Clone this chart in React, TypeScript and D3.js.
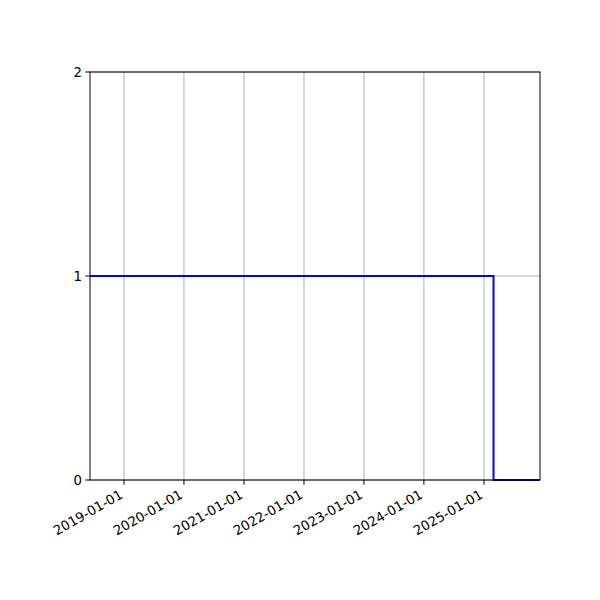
import React from "react";
import * as d3 from "d3";

// step series: value holds until the next date
const dates = ["2018-06-08", "2025-02-28", "2025-12-08"];
const values = [1, 0, 0];
const yTicks = [0, 1, 2];
const xTicks = ["2019-01-01", "2020-01-01", "2021-01-01", "2022-01-01", "2023-01-01", "2024-01-01", "2025-01-01"];

const W = 600;
const H = 600;
const margin = { top: 72, right: 60, bottom: 120, left: 90 };

const App: React.FC = () => {
  const parse = d3.utcParse("%Y-%m-%d");
  const pts = dates.map((d, i) => ({ date: parse(d)!, value: values[i] }));

  const x = d3
    .scaleUtc()
    .domain(d3.extent(pts, (d) => d.date) as [Date, Date])
    .range([margin.left, W - margin.right]);
  const y = d3
    .scaleLinear()
    .domain([0, 2])
    .range([H - margin.bottom, margin.top]);

  const line = d3
    .line<{ date: Date; value: number }>()
    .x((d) => x(d.date))
    .y((d) => y(d.value))
    .curve(d3.curveStepAfter);

  const font = "DejaVu Sans, sans-serif";
  const [x0, x1] = x.range();
  const [y0, y1] = y.range();

  return (
    <svg width={W} height={H} style={{ display: "block", margin: -8 }}>
      <rect width={W} height={H} fill="white" />
      {/* grid */}
      {xTicks.map((t) => (
        <line key={t} x1={x(parse(t)!)} x2={x(parse(t)!)} y1={y0} y2={y1} stroke="#b0b0b0" strokeWidth={1} />
      ))}
      {yTicks.map((t) => (
        <line key={t} x1={x0} x2={x1} y1={y(t)} y2={y(t)} stroke="#b0b0b0" strokeWidth={1} />
      ))}
      <path d={line(pts) || ""} fill="none" stroke="blue" strokeWidth={2} />
      {/* frame */}
      <rect x={x0} y={y1} width={x1 - x0} height={y0 - y1} fill="none" stroke="black" strokeWidth={1} />
      {/* y axis */}
      {yTicks.map((t) => (
        <g key={t} transform={`translate(${x0},${y(t)})`}>
          <line x1={-4.7} x2={0} stroke="black" strokeWidth={1} />
          <text x={-8} dy="0.35em" textAnchor="end" fontFamily={font} fontSize={13.3}>
            {t}
          </text>
        </g>
      ))}
      {/* x axis */}
      {xTicks.map((t) => (
        <g key={t} transform={`translate(${x(parse(t)!)},${y0})`}>
          <line y1={0} y2={4.7} stroke="black" strokeWidth={1} />
          <text
            transform="translate(-5,9) rotate(-30)"
            dy="0.71em"
            textAnchor="end"
            fontFamily={font}
            fontSize={13.3}
          >
            {t}
          </text>
        </g>
      ))}
    </svg>
  );
};

export default App;
